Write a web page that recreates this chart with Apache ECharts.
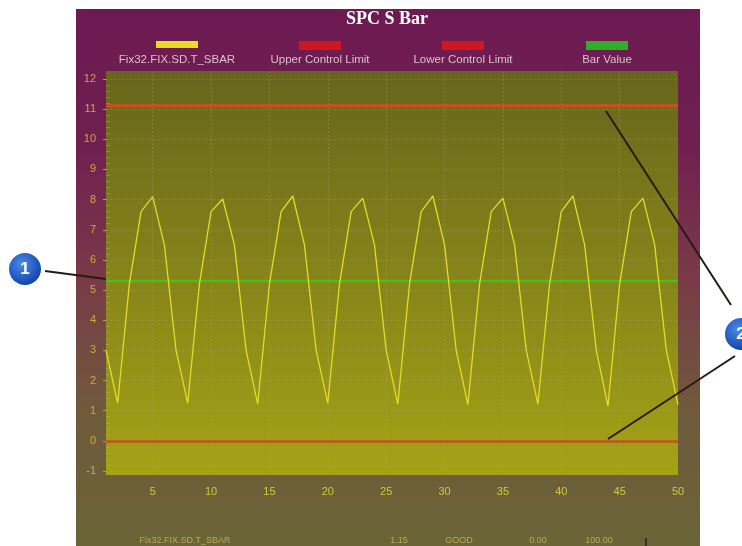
<!DOCTYPE html>
<html><head><meta charset="utf-8">
<style>html,body{margin:0;padding:0;background:#fff;overflow:hidden}#c{width:742px;height:546px;filter:blur(0.6px)}</style>
<script src="https://cdn.jsdelivr.net/npm/echarts@6/dist/echarts.min.js"></script>
</head><body><div id="c"></div>
<script>
const categories = Array.from({length:50},(_,i)=>String(i+1));
const sbarValues = [3.0,1.25,5.2,7.6,8.1,6.5,3.0,1.25,5.2,7.6,8.02,6.5,3.0,1.22,5.2,7.6,8.12,6.5,3.0,1.25,5.2,7.6,8.05,6.5,3.0,1.22,5.2,7.6,8.12,6.5,3.0,1.2,5.2,7.6,8.05,6.5,3.0,1.22,5.2,7.6,8.12,6.5,3.0,1.15,5.2,7.6,8.05,6.5,3.0,1.2];
const upperLimit = 11.12;
const lowerLimit = -0.02;
const barValue = 5.3;
const legendNames = ['Fix32.FIX.SD.T_SBAR','Upper Control Limit','Lower Control Limit','Bar Value'];
const legendColors = ['#e6dc28','#d0161e','#d0161e','#2fae28'];
const statusCells = ['Fix32.FIX.SD.T_SBAR','1.15','GOOD','0.00','100.00'];

const font = '"Liberation Sans", Arial, sans-serif';
const legendCenters = [177,320,463,607];
const statusCenters = [185,399,459,538,599];
const g = [];
g.push({type:'rect',z:-10,silent:true,shape:{x:76,y:9,width:624,height:537},
  style:{fill:new echarts.graphic.LinearGradient(0,0,0,1,[
    {offset:0,color:'#6c1a52'},{offset:0.25,color:'#701f50'},{offset:0.5,color:'#793a48'},
    {offset:0.75,color:'#6f5a3c'},{offset:1,color:'#6a6436'}])}});
g.push({type:'text',z:20,x:387,y:19,silent:true,style:{text:'SPC S Bar',fill:'#fff',align:'center',verticalAlign:'middle',
  font:'bold 18px "Liberation Serif", "Times New Roman", serif',shadowColor:'#111',shadowBlur:2,shadowOffsetX:1,shadowOffsetY:1}});
legendNames.forEach((n,i)=>{
  g.push({type:'rect',z:20,silent:true,shape:{x:legendCenters[i]-21,y:41,width:42,height:i===0?7:9},style:{fill:legendColors[i]}});
  g.push({type:'text',z:20,x:legendCenters[i],y:60,silent:true,style:{text:n,fill:'#d8c4c8',align:'center',verticalAlign:'middle',font:'11.5px '+font}});
});
statusCells.forEach((n,i)=>{
  g.push({type:'text',z:20,x:statusCenters[i],y:541,silent:true,style:{text:n,fill:'#b8ac50',align:'center',verticalAlign:'middle',font:'9px '+font}});
});
g.push({type:'line',z:30,silent:true,shape:{x1:646,y1:538,x2:646,y2:546},style:{stroke:'#222',lineWidth:1.5}});
[[45,271,106,279],[606,111,731,305],[608,439,735,356]].forEach(l=>{
  g.push({type:'line',z:30,silent:true,shape:{x1:l[0],y1:l[1],x2:l[2],y2:l[3]},style:{stroke:'#2a1a14',lineWidth:2}});
});
[[25,269,'1'],[741,334,'2']].forEach(b=>{
  g.push({type:'circle',z:31,silent:true,shape:{cx:b[0],cy:b[1],r:16},style:{
    fill:new echarts.graphic.RadialGradient(0.4,0.35,0.7,[{offset:0,color:'#4a8ae8'},{offset:1,color:'#1040a8'}])}});
  g.push({type:'text',z:32,x:b[0],y:b[1],silent:true,style:{text:b[2],fill:'#fff',align:'center',verticalAlign:'middle',font:'bold 17px '+font}});
});

const chart = echarts.init(document.getElementById('c'),null,{renderer:'canvas'});
const multipleOf5 = (i)=> (i+1)%5===0;
const mkLine = (name,val,color,w)=>({name,type:'line',xAxisIndex:0,yAxisIndex:0,symbol:'none',silent:true,
  data:categories.map(()=>val),lineStyle:{color,width:w},z:3});
chart.setOption({
  animation:false,
  backgroundColor:'#fff',
  grid:[
    {left:106,right:64,top:79,bottom:75,show:false},
    {left:106,right:64,top:71,bottom:71,show:true,borderWidth:0,z:0,
     backgroundColor:new echarts.graphic.LinearGradient(0,0,0,1,[{offset:0,color:'#66651c'},{offset:1,color:'#a6a216'}])}
  ],
  xAxis:[
    {gridIndex:0,type:'category',boundaryGap:false,data:categories,show:false},
    {gridIndex:1,type:'category',boundaryGap:false,data:categories,
     axisLine:{show:false},axisTick:{show:false},
     axisLabel:{interval:(i)=>multipleOf5(i),color:'#d2c83c',fontSize:11,fontFamily:font,margin:11,showMaxLabel:true,hideOverlap:false},
     splitLine:{show:true,interval:(i)=>multipleOf5(i)&&i<49,lineStyle:{color:'rgba(170,170,130,0.32)',type:[2,2],width:1}}}
  ],
  yAxis:[
    {gridIndex:0,type:'value',min:-1,max:12,interval:1,
     axisLine:{show:false},
     axisTick:{show:true,length:3,lineStyle:{color:'#b0a060'}},
     axisLabel:{color:'#d2a83c',fontSize:11,fontFamily:font,margin:10},
     splitLine:{show:true,lineStyle:{color:'rgba(170,170,130,0.32)',type:[2,2],width:1}}},
    {gridIndex:1,type:'value',min:0,max:1,show:false,splitLine:{show:false}},
    {gridIndex:0,type:'value',min:-1,max:12,interval:1,position:'left',
     axisLine:{show:false},axisLabel:{show:false},splitLine:{show:false},
     axisTick:{show:false,inside:true},
     minorTick:{show:true,splitNumber:5,length:4,lineStyle:{color:'rgba(180,180,120,0.4)'}}}
  ],
  series:[
    mkLine('Upper Control Limit',upperLimit,'#c8501e',3),
    mkLine('Lower Control Limit',lowerLimit,'#c8501e',2.5),
    mkLine('Bar Value',barValue,'#44c018',2.5),
    {name:'Fix32.FIX.SD.T_SBAR',type:'line',xAxisIndex:0,yAxisIndex:0,symbol:'none',silent:true,data:sbarValues,
     lineStyle:{color:'#e2dc2c',width:1.3},z:4}
  ],
  graphic:{elements:g}
});
</script></body></html>
